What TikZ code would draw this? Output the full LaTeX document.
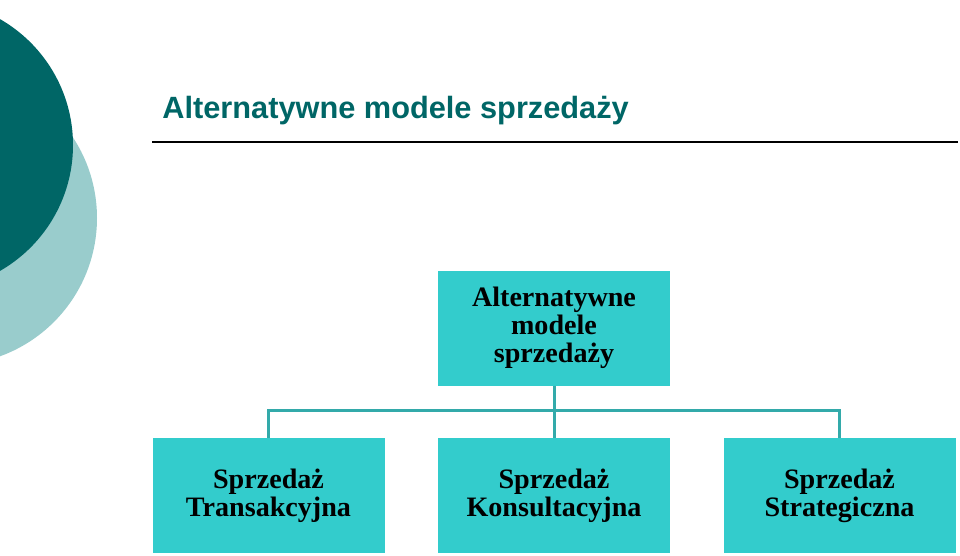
\documentclass[tikz,border=0pt]{standalone}
\usepackage{fontspec}
\setmainfont{Liberation Serif}
\setsansfont{Liberation Sans}
\usetikzlibrary{positioning}
\definecolor{darkteal}{RGB}{0,102,102}
\definecolor{lightteal}{RGB}{153,204,204}
\definecolor{boxteal}{RGB}{51,204,204}
\definecolor{lineteal}{RGB}{51,170,170}
\tikzset{
  modelbox/.style={fill=boxteal, minimum width=232*0.02cm, minimum height=115*0.02cm,
    inner sep=0pt, align=center, font=\fontsize{16}{16}\selectfont\bfseries},
  link/.style={draw=lineteal, line width=1.7pt}
}
\begin{document}
\begin{tikzpicture}[x=0.02cm,y=-0.02cm]
\useasboundingbox (0,0) rectangle (960,555);
\clip (0,0) rectangle (960,555);
\fill[lightteal] (-50,218) circle (147);
\fill[darkteal] (-72,145) circle (145);
\node[anchor=base west, text=darkteal, inner sep=0pt,
  font=\sffamily\bfseries\fontsize{17.5}{20}\selectfont] (title) at (162,118) {Alternatywne modele sprzedaży};
\draw[line width=0.8pt] (152,142) -- (958,142);
\node[modelbox] (top) at (554,328) {Alternatywne\\modele\\sprzedaży};
\node[modelbox] (trans) at (268.5,495.5) {Sprzedaż\\Transakcyjna};
\node[modelbox] (kons) at (554,495.5) {Sprzedaż\\Konsultacyjna};
\node[modelbox] (strat) at (839.5,495.5) {Sprzedaż\\Strategiczna};
\coordinate (bus) at (554,410);
\draw[link] (top.south) -- (bus);
\draw[link] (trans.north) |- (bus) -| (strat.north);
\draw[link] (bus) -- (kons.north);
\end{tikzpicture}
\end{document}
